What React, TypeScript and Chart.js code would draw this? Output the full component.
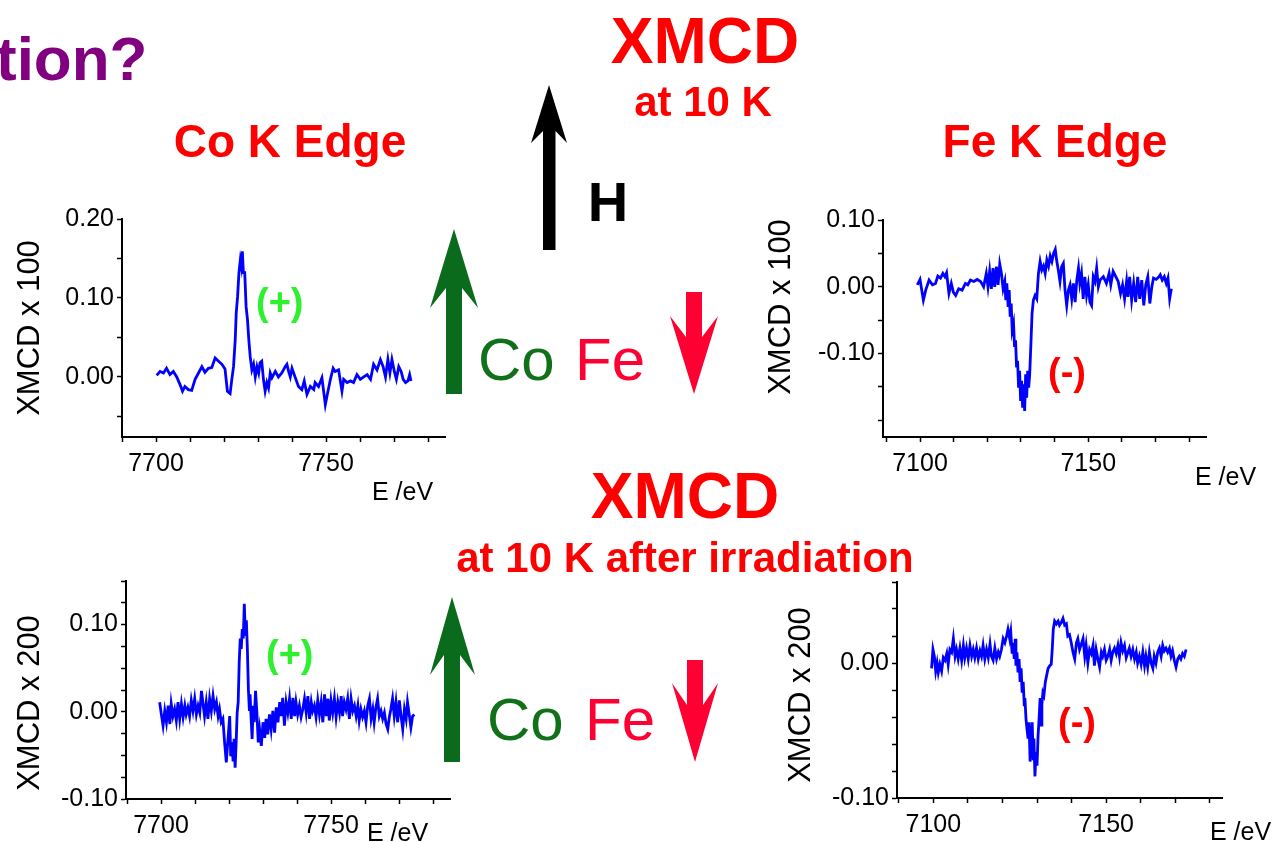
import React, { useEffect, useRef } from "react";
import { Chart, registerables } from "chart.js";

Chart.register(...registerables);

const FONT = '"Liberation Sans", Arial, Helvetica, sans-serif';

// ---- Co K edge, XMCD at 10 K (x 100) ----
const coEnergy10K = [
  7700.2, 7701.2, 7702.2, 7703.1, 7704.1, 7705.1, 7706.1, 7707.1, 7707.8, 7708.5,
  7709.5, 7710.5, 7711.5, 7712.5, 7713.5, 7714.4, 7715.4, 7716.4, 7717.4, 7718.4,
  7719.4, 7720.3, 7721.0, 7721.8, 7722.3, 7722.8, 7723.3, 7723.6, 7724.0, 7724.4,
  7724.8, 7725.1, 7725.4, 7725.7, 7726.1, 7726.5, 7726.9, 7727.3, 7727.7, 7728.2,
  7728.7, 7729.2, 7729.7, 7730.2, 7730.6, 7731.1, 7731.6, 7732.1, 7732.6, 7733.1,
  7733.6, 7734.1, 7735.1, 7736.0, 7737.0, 7738.0, 7738.5, 7739.0, 7739.5, 7740.0,
  7740.9, 7741.9, 7742.9, 7743.6, 7744.4, 7745.4, 7746.4, 7746.8, 7747.8, 7748.8,
  7749.3, 7749.8, 7750.3, 7751.3, 7752.1, 7752.7, 7753.7, 7754.7, 7755.2, 7756.2,
  7757.2, 7758.1, 7759.1, 7760.1, 7761.1, 7762.1, 7763.1, 7764.0, 7765.0, 7766.0,
  7766.8, 7767.5, 7768.2, 7768.8, 7769.4, 7770.1, 7770.7, 7771.4, 7772.1, 7772.7,
  7773.4, 7774.1, 7774.6, 7775.0,
];
const coXmcd10K = [
  0.002, 0.007, 0.005, 0.011, 0.003, 0.007, 0.0, -0.01, -0.018, -0.012,
  -0.016, -0.017, -0.003, 0.005, 0.013, 0.006, 0.011, 0.012, 0.024, 0.02,
  0.016, 0.01, -0.018, -0.021, -0.003, 0.013, 0.047, 0.081, 0.102, 0.132,
  0.148, 0.14, 0.159, 0.132, 0.132, 0.089, 0.073, 0.047, 0.026, 0.009,
  0.016, 0.0, 0.013, 0.005, 0.018, 0.02, -0.003, -0.018, -0.007, -0.014,
  0.005, -0.001, 0.007, 0.0, 0.005, 0.013, 0.016, 0.007, 0.0, 0.011,
  0.0, -0.012, -0.016, -0.005, -0.022, -0.012, -0.016, -0.007, -0.012, -0.001,
  -0.018, -0.035, -0.024, -0.003, 0.011, 0.007, 0.009, -0.018, -0.003, -0.007,
  -0.005, -0.007, 0.003, -0.003, 0.0, 0.003, -0.003, 0.016, 0.009, 0.022,
  0.013, 0.0, 0.022, 0.005, 0.022, 0.007, -0.003, 0.013, 0.007, -0.003,
  -0.007, -0.005, 0.003, -0.005,
];

// ---- Fe K edge, XMCD at 10 K (x 100) ----
const feEnergy10K = [
  7099.2, 7100.0, 7101.0, 7101.7, 7102.7, 7103.7, 7104.6, 7105.3, 7106.1, 7106.8,
  7107.4, 7107.9, 7108.6, 7109.3, 7109.9, 7110.6, 7111.5, 7112.5, 7113.5, 7114.2,
  7115.0, 7116.0, 7117.0, 7118.0, 7118.9, 7119.7, 7120.2, 7120.7, 7121.2, 7121.7,
  7122.2, 7122.7, 7123.2, 7123.7, 7124.2, 7124.7, 7125.2, 7125.5, 7125.8, 7126.2,
  7126.5, 7126.8, 7127.1, 7127.4, 7127.8, 7128.1, 7128.4, 7128.7, 7129.0, 7129.3,
  7129.6, 7129.9, 7130.2, 7130.5, 7130.8, 7131.1, 7131.4, 7131.7, 7132.0, 7132.3,
  7132.6, 7133.0, 7133.3, 7133.7, 7134.2, 7134.7, 7135.2, 7135.7, 7136.2, 7136.7,
  7137.2, 7137.7, 7138.2, 7138.7, 7139.2, 7139.7, 7140.2, 7140.6, 7141.1, 7141.6,
  7142.1, 7142.6, 7143.1, 7143.6, 7144.1, 7144.6, 7145.1, 7145.6, 7146.1, 7146.6,
  7147.1, 7147.5, 7148.0, 7148.5, 7149.0, 7149.5, 7150.0, 7150.5, 7151.0, 7151.5,
  7152.0, 7152.5, 7153.0, 7153.5, 7154.5, 7155.4, 7156.2, 7156.7, 7157.4, 7158.2,
  7158.9, 7159.6, 7160.2, 7160.8, 7161.4, 7161.8, 7162.3, 7162.9, 7163.5, 7164.1,
  7164.7, 7165.3, 7165.9, 7166.5, 7167.1, 7167.7, 7168.3, 7168.9, 7169.4, 7170.2,
  7171.0, 7171.4, 7172.0, 7172.6, 7173.2, 7173.7, 7174.2, 7174.7,
];
const feXmcd10K = [
  0.003, 0.011, -0.02, -0.005, 0.01, 0.003, 0.005, 0.016, 0.013, 0.02,
  0.015, 0.021, -0.01, 0.005, -0.008, -0.013, -0.003, -0.005, 0.005, 0.003,
  0.01, 0.008, 0.011, 0.008, 0.0, 0.02, 0.0, 0.023, -0.003, 0.028,
  0.0, 0.03, 0.003, 0.034, 0.02, -0.003, 0.008, -0.02, 0.005, -0.03,
  -0.005, -0.045, -0.025, -0.065, -0.055, -0.09, -0.08, -0.121, -0.111, -0.151,
  -0.126, -0.171, -0.141, -0.181, -0.146, -0.186, -0.131, -0.166, -0.126, -0.151,
  -0.131, -0.08, -0.04, -0.02, -0.013, -0.018, 0.02, 0.038, 0.025, 0.031,
  0.02, 0.04, 0.031, 0.046, 0.038, 0.05, 0.056, 0.04, 0.025, 0.008,
  0.03, 0.035, -0.005, -0.028, -0.005, 0.003, -0.018, 0.005, -0.023, 0.01,
  0.028, 0.005, 0.02, -0.018, 0.015, -0.013, 0.003, -0.023, -0.028, 0.015,
  0.008, 0.028, 0.0, 0.01, 0.015, 0.005, 0.02, 0.003, 0.023, 0.015,
  0.008, -0.01, 0.003, -0.018, 0.008, -0.015, 0.015, -0.02, 0.005, -0.023,
  0.015, -0.018, 0.01, -0.028, 0.003, 0.015, -0.025, 0.0, 0.013, 0.011,
  0.015, 0.018, 0.01, 0.015, 0.005, 0.013, -0.018, -0.003,
];

// ---- Co K edge, XMCD at 10 K after irradiation (x 200) ----
const coEnergyIrr = [
  7699.6, 7700.1, 7700.6, 7701.1, 7701.6, 7702.1, 7702.6, 7703.0, 7703.5, 7704.0,
  7704.5, 7705.0, 7705.5, 7706.0, 7706.5, 7707.0, 7707.4, 7707.9, 7708.4, 7708.9,
  7709.4, 7709.9, 7710.4, 7710.9, 7711.4, 7711.9, 7712.3, 7712.8, 7713.3, 7713.8,
  7714.3, 7714.8, 7715.3, 7715.8, 7716.3, 7716.8, 7717.2, 7717.7, 7718.2, 7718.7,
  7719.2, 7719.7, 7720.2, 7720.5, 7720.9, 7721.2, 7721.5, 7721.8, 7722.1, 7722.4,
  7722.7, 7723.0, 7723.3, 7723.6, 7723.9, 7724.2, 7724.5, 7724.8, 7725.1, 7725.4,
  7725.7, 7726.0, 7726.2, 7726.5, 7726.8, 7727.1, 7727.4, 7727.8, 7728.2, 7728.6,
  7729.0, 7729.5, 7730.0, 7730.5, 7730.9, 7731.4, 7731.9, 7732.4, 7732.9, 7733.4,
  7733.9, 7734.4, 7734.9, 7735.3, 7735.8, 7736.3, 7736.8, 7737.3, 7737.8, 7738.3,
  7738.8, 7739.3, 7739.7, 7740.2, 7740.7, 7741.2, 7741.7, 7742.2, 7742.7, 7743.2,
  7743.7, 7744.2, 7744.6, 7745.1, 7745.6, 7746.1, 7746.6, 7747.1, 7747.6, 7748.1,
  7748.6, 7749.1, 7749.5, 7750.0, 7750.5, 7751.0, 7751.5, 7752.0, 7752.5, 7753.0,
  7753.4, 7753.9, 7754.4, 7754.9, 7755.4, 7755.9, 7756.4, 7756.9, 7757.4, 7757.9,
  7758.3, 7758.8, 7759.3, 7759.8, 7760.3, 7760.8, 7761.3, 7761.8, 7762.3, 7762.7,
  7763.2, 7763.7, 7764.2, 7764.7, 7765.2, 7765.7, 7766.2, 7766.7, 7767.2, 7767.6,
  7768.1, 7768.6, 7769.1, 7769.6, 7770.1, 7770.6, 7771.1, 7771.6, 7772.1, 7772.5,
  7773.0, 7773.5, 7774.0, 7774.5,
];
const coXmcdIrr = [
  0.011, -0.003, -0.016, 0.001, -0.012, 0.007, -0.014, 0.009, -0.005, 0.003,
  -0.01, 0.011, -0.008, 0.009, -0.006, 0.007, -0.003, 0.005, -0.005, 0.013,
  0.001, 0.015, -0.003, 0.007, -0.001, 0.024, 0.011, -0.005, 0.011, -0.008,
  0.015, 0.001, 0.018, 0.003, 0.011, -0.005, 0.003, -0.012, -0.008, -0.035,
  -0.058, -0.031, -0.005, -0.051, -0.035, -0.057, -0.031, -0.064, -0.035, -0.001,
  0.011, 0.057, 0.084, 0.072, 0.095, 0.084, 0.124, 0.087, 0.105, 0.072,
  0.026, 0.001, 0.02, -0.008, -0.031, 0.007, -0.012, 0.024, -0.001, -0.035,
  -0.02, -0.039, -0.012, -0.03, -0.008, -0.026, -0.003, -0.02, 0.001, -0.024,
  0.005, -0.012, 0.011, -0.005, 0.016, -0.016, 0.011, -0.001, 0.015, -0.008,
  0.016, -0.005, 0.011, -0.003, 0.007, -0.006, 0.003, 0.015, -0.001, 0.018,
  -0.008, 0.011, 0.001, 0.007, -0.006, 0.013, -0.003, 0.011, -0.012, 0.02,
  -0.005, 0.015, -0.01, 0.013, -0.001, 0.015, -0.006, 0.011, -0.001, 0.018,
  -0.005, 0.011, 0.003, 0.015, -0.008, 0.015, 0.001, 0.007, -0.005, 0.007,
  -0.01, 0.003, -0.006, 0.001, -0.012, 0.007, 0.015, -0.008, 0.003, -0.012,
  0.005, 0.015, -0.005, 0.001, -0.008, -0.001, -0.014, -0.02, -0.005, 0.003,
  0.015, -0.005, 0.011, -0.012, 0.013, -0.005, -0.02, 0.003, -0.008, 0.011,
  -0.003, -0.018, -0.005, -0.003,
];

// ---- Fe K edge, XMCD at 10 K after irradiation (x 200) ----
const feEnergyIrr = [
  7099.5, 7099.9, 7100.3, 7100.7, 7101.1, 7101.45, 7101.9, 7102.4, 7102.9, 7103.4,
  7103.9, 7104.3, 7104.8, 7105.3, 7105.8, 7106.3, 7106.7, 7107.2, 7107.7, 7108.2,
  7108.7, 7109.1, 7109.6, 7110.1, 7110.6, 7111.1, 7111.55, 7112.0, 7112.5, 7113.0,
  7113.5, 7113.95, 7114.4, 7114.9, 7115.4, 7115.9, 7116.4, 7116.8, 7117.3, 7117.8,
  7118.3, 7118.8, 7119.2, 7119.7, 7120.2, 7120.7, 7121.2, 7121.6, 7122.1, 7122.4,
  7122.8, 7123.1, 7123.4, 7123.7, 7123.9, 7124.2, 7124.5, 7124.8, 7125.1, 7125.4,
  7125.7, 7126.0, 7126.3, 7126.5, 7126.8, 7127.1, 7127.4, 7127.7, 7128.0, 7128.3,
  7128.6, 7128.9, 7129.1, 7129.4, 7129.7, 7130.0, 7130.3, 7130.6, 7130.9, 7131.2,
  7131.4, 7131.7, 7132.0, 7132.4, 7132.8, 7133.2, 7133.7, 7134.1, 7134.4, 7134.7,
  7135.1, 7135.6, 7136.1, 7136.5, 7137.0, 7137.5, 7138.0, 7138.5, 7138.9, 7139.4,
  7139.9, 7140.4, 7140.9, 7141.4, 7141.8, 7142.3, 7142.8, 7143.3, 7143.8, 7144.2,
  7144.7, 7145.2, 7145.7, 7146.2, 7146.6, 7147.1, 7147.6, 7148.1, 7148.6, 7149.0,
  7149.5, 7150.0, 7150.5, 7151.0, 7151.45, 7151.9, 7152.4, 7152.9, 7153.4, 7153.85,
  7154.3, 7154.8, 7155.3, 7155.8, 7156.3, 7156.7, 7157.2, 7157.7, 7158.2, 7158.7,
  7159.1, 7159.6, 7160.1, 7160.6, 7161.1, 7161.5, 7162.0, 7162.5, 7163.0, 7163.5,
  7163.9, 7164.4, 7164.9, 7165.4, 7165.9, 7166.35, 7166.8, 7167.3, 7167.8, 7168.3,
  7168.75, 7169.2, 7169.7, 7170.2, 7170.7, 7171.15, 7171.6, 7172.1, 7172.6, 7173.1,
];
const feXmcdIrr = [
  -0.004, 0.01, 0.005, -0.006, 0.0, -0.007, -0.001, -0.006, 0.004, 0.002,
  0.007, -0.001, 0.01, 0.008, 0.018, 0.005, 0.01, 0.003, 0.011, 0.002,
  0.013, 0.004, 0.011, 0.003, 0.013, 0.005, 0.01, 0.004, 0.011, 0.003,
  0.009, 0.005, 0.013, 0.003, 0.01, 0.004, 0.014, 0.005, 0.002, 0.011,
  0.003, 0.008, 0.005, 0.01, 0.018, 0.015, 0.02, 0.025, 0.018, 0.023,
  0.007, 0.015, 0.003, 0.018, -0.002, 0.008, -0.007, 0.003, -0.014, -0.004,
  -0.022, -0.014, -0.031, -0.026, -0.041, -0.049, -0.056, -0.044, -0.073, -0.061,
  -0.044, -0.071, -0.056, -0.084, -0.066, -0.076, -0.054, -0.041, -0.026, -0.046,
  -0.031, -0.022, -0.024, -0.014, -0.009, -0.004, -0.002, -0.001, 0.01, 0.025,
  0.031, 0.029, 0.031, 0.028, 0.03, 0.033, 0.028, 0.029, 0.02, 0.021,
  0.015, 0.008, 0.003, 0.015, 0.018, 0.01, 0.014, 0.018, 0.005, 0.013,
  0.0, 0.01, 0.007, 0.013, -0.002, 0.01, 0.003, -0.003, 0.008, 0.005,
  0.01, 0.002, 0.005, 0.01, 0.002, 0.008, 0.011, 0.007, 0.013, 0.005,
  0.015, 0.009, 0.013, 0.004, 0.008, 0.011, 0.005, 0.01, 0.003, 0.008,
  0.0, 0.005, -0.001, 0.008, -0.002, 0.005, -0.003, 0.008, 0.0, -0.004,
  0.005, 0.0, 0.008, 0.011, 0.005, 0.013, 0.009, 0.011, 0.008, 0.011,
  0.005, 0.009, 0.002, -0.003, 0.003, 0.005, 0.003, 0.007, 0.005, 0.01,
];

// Axis tick positions and the subset that carries a number
const coEnergyTicks = [7690, 7700, 7710, 7720, 7730, 7740, 7750, 7760, 7770, 7780];
const coEnergyLabels = [7700, 7750];
const feEnergyTicks = [7090, 7100, 7110, 7120, 7130, 7140, 7150, 7160, 7170, 7180];
const feEnergyLabels = [7100, 7150];
const coYTicks10K = [-0.05, 0, 0.05, 0.1, 0.15, 0.2];
const coYLabels10K = [0, 0.1, 0.2];
const feYTicks10K = [-0.2, -0.15, -0.1, -0.05, 0, 0.05, 0.1];
const feYLabels10K = [-0.1, 0, 0.1];
const coYTicksIrr = [-0.1, -0.075, -0.05, -0.025, 0, 0.025, 0.05, 0.075, 0.1, 0.125, 0.15];
const coYLabelsIrr = [-0.1, 0, 0.1];
const feYTicksIrr = [-0.1, -0.08, -0.06, -0.04, -0.02, 0, 0.02, 0.04, 0.06];
const feYLabelsIrr = [-0.1, 0];

const PAD_TOP = 20;
const PAD_RIGHT = 12;
const Y_AXIS_W = 80;
const X_AXIS_H = 38;

const hasValue = (list: number[], v: number) => list.some((t) => Math.abs(t - v) < 1e-9);

type PanelProps = {
  energy: number[];
  xmcd: number[];
  xMin: number;
  xMax: number;
  yMin: number;
  yMax: number;
  xTicks: number[];
  xLabels: number[];
  yTicks: number[];
  yLabels: number[];
  areaLeft: number;
  areaTop: number;
  areaRight: number;
  areaBottom: number;
};

function SpectrumPanel(p: PanelProps) {
  const ref = useRef<HTMLCanvasElement>(null);
  const left = p.areaLeft - Y_AXIS_W;
  const top = p.areaTop - PAD_TOP;
  const width = p.areaRight + PAD_RIGHT - left;
  const height = p.areaBottom + X_AXIS_H - top;

  useEffect(() => {
    const tickFont = { family: FONT, size: 25 };
    const gridOpts = {
      drawOnChartArea: false,
      drawTicks: true,
      tickLength: 5,
      tickColor: "#000",
      tickWidth: 1.5,
    };
    const borderOpts = { display: true, color: "#000", width: 2 };
    const chart = new Chart(ref.current as HTMLCanvasElement, {
      type: "line",
      data: {
        datasets: [
          {
            data: p.energy.map((e, i) => ({ x: e, y: p.xmcd[i] })),
            borderColor: "#0000ff",
            borderWidth: 2.8,
            pointRadius: 0,
            tension: 0,
            fill: false,
          },
        ],
      },
      options: {
        responsive: false,
        animation: false,
        events: [],
        layout: { padding: { top: PAD_TOP, right: PAD_RIGHT, left: 0, bottom: 0 } },
        plugins: { legend: { display: false }, tooltip: { enabled: false } },
        scales: {
          x: {
            type: "linear",
            min: p.xMin,
            max: p.xMax,
            bounds: "data",
            afterBuildTicks: (s: any) => {
              s.ticks = p.xTicks.map((v) => ({ value: v }));
            },
            afterFit: (s: any) => {
              s.height = X_AXIS_H;
            },
            ticks: {
              autoSkip: false,
              maxRotation: 0,
              padding: 7,
              color: "#000",
              font: tickFont,
              callback: (v: any) => (hasValue(p.xLabels, Number(v)) ? String(v) : ""),
            },
            grid: gridOpts,
            border: borderOpts,
          },
          y: {
            type: "linear",
            min: p.yMin,
            max: p.yMax,
            bounds: "data",
            afterBuildTicks: (s: any) => {
              s.ticks = p.yTicks.map((v) => ({ value: v }));
            },
            afterFit: (s: any) => {
              s.width = Y_AXIS_W;
            },
            ticks: {
              autoSkip: false,
              padding: 3,
              color: "#000",
              font: tickFont,
              callback: (v: any) =>
                hasValue(p.yLabels, Number(v)) ? Number(v).toFixed(2) : "",
            },
            grid: gridOpts,
            border: borderOpts,
          },
        },
      },
    } as any);
    return () => chart.destroy();
  }, []);

  return (
    <canvas
      ref={ref}
      width={width}
      height={height}
      style={{ position: "absolute", left, top, width, height }}
    />
  );
}

type LabelProps = {
  x: number;
  y: number;
  size: number;
  fill: string;
  bold?: boolean;
  anchor?: "start" | "middle" | "end";
  rotate?: boolean;
  children: React.ReactNode;
};

function Label({ x, y, size, fill, bold, anchor = "start", rotate, children }: LabelProps) {
  return (
    <text
      x={rotate ? 0 : x}
      y={rotate ? 0 : y}
      transform={rotate ? `translate(${x},${y}) rotate(-90)` : undefined}
      textAnchor={anchor}
      dominantBaseline={rotate ? "central" : undefined}
      fill={fill}
      style={{ fontFamily: FONT, fontSize: size, fontWeight: bold ? 700 : 400 }}
    >
      {children}
    </text>
  );
}

const RED = "#ff0000";
const GREEN_ARROW = "#0b6b1c";
const PINK_RED = "#ff0033";
const LIME = "#2ef02e";

export default function App() {
  return (
    <div
      style={{
        position: "fixed",
        left: 0,
        top: 0,
        width: 1272,
        height: 842,
        overflow: "hidden",
        background: "#ffffff",
      }}
    >
      <SpectrumPanel
        energy={coEnergy10K}
        xmcd={coXmcd10K}
        xMin={7690}
        xMax={7785}
        yMin={-0.076}
        yMax={0.2}
        xTicks={coEnergyTicks}
        xLabels={coEnergyLabels}
        yTicks={coYTicks10K}
        yLabels={coYLabels10K}
        areaLeft={122}
        areaTop={219}
        areaRight={445}
        areaBottom={437}
      />
      <SpectrumPanel
        energy={feEnergy10K}
        xmcd={feXmcd10K}
        xMin={7089}
        xMax={7185}
        yMin={-0.225}
        yMax={0.1}
        xTicks={feEnergyTicks}
        xLabels={feEnergyLabels}
        yTicks={feYTicks10K}
        yLabels={feYLabels10K}
        areaLeft={883}
        areaTop={220}
        areaRight={1206}
        areaBottom={437}
      />
      <SpectrumPanel
        energy={coEnergyIrr}
        xmcd={coXmcdIrr}
        xMin={7689.7}
        xMax={7785}
        yMin={-0.1}
        yMax={0.15}
        xTicks={coEnergyTicks}
        xLabels={coEnergyLabels}
        yTicks={coYTicksIrr}
        yLabels={coYLabelsIrr}
        areaLeft={126}
        areaTop={581}
        areaRight={450}
        areaBottom={799}
      />
      <SpectrumPanel
        energy={feEnergyIrr}
        xmcd={feXmcdIrr}
        xMin={7089.5}
        xMax={7183.5}
        yMin={-0.1}
        yMax={0.06}
        xTicks={feEnergyTicks}
        xLabels={feEnergyLabels}
        yTicks={feYTicksIrr}
        yLabels={feYLabelsIrr}
        areaLeft={897}
        areaTop={582}
        areaRight={1222}
        areaBottom={798}
      />

      <svg
        width={1272}
        height={842}
        style={{ position: "absolute", left: 0, top: 0, pointerEvents: "none" }}
      >
        {/* headings */}
        <Label x={-4} y={80} size={62} fill="#800080" bold>
          tion?
        </Label>
        <Label x={705} y={63} size={64} fill={RED} bold anchor="middle">
          XMCD
        </Label>
        <Label x={703} y={116} size={42} fill={RED} bold anchor="middle">
          at 10 K
        </Label>
        <Label x={290} y={157} size={46} fill={RED} bold anchor="middle">
          Co K Edge
        </Label>
        <Label x={1055} y={157} size={46} fill={RED} bold anchor="middle">
          Fe K Edge
        </Label>
        <Label x={685} y={518} size={64} fill={RED} bold anchor="middle">
          XMCD
        </Label>
        <Label x={685} y={572} size={42} fill={RED} bold anchor="middle">
          at 10 K after irradiation
        </Label>

        {/* applied field */}
        <polygon points="549,85 567,143 555.5,131 555.5,250 543,250 543,131 531,143" fill="#000" />
        <Label x={608} y={221} size={56} fill="#000" bold anchor="middle">
          H
        </Label>

        {/* spin orientation, 10 K */}
        <polygon points="454,229 478,308 462,288 462,394 446,394 446,288 430,308" fill={GREEN_ARROW} />
        <polygon points="686,292 702,292 702,337 718,316 694,394 670,316 686,337" fill={PINK_RED} />
        <Label x={478} y={380} size={60} fill="#11701a">
          Co
        </Label>
        <Label x={575} y={380} size={60} fill={PINK_RED}>
          Fe
        </Label>

        {/* spin orientation, after irradiation */}
        <polygon points="452,597 475,675 460,655 460,762 444,762 444,655 430,675" fill={GREEN_ARROW} />
        <polygon points="687,660 703,660 703,705 718,683 695,762 672,683 687,705" fill={PINK_RED} />
        <Label x={487} y={740} size={60} fill="#11701a">
          Co
        </Label>
        <Label x={585} y={740} size={60} fill={PINK_RED}>
          Fe
        </Label>

        {/* axis titles */}
        <Label x={28} y={328} size={31} fill="#000" anchor="middle" rotate>
          XMCD x 100
        </Label>
        <Label x={779} y={307} size={31} fill="#000" anchor="middle" rotate>
          XMCD x 100
        </Label>
        <Label x={28} y={703} size={31} fill="#000" anchor="middle" rotate>
          XMCD x 200
        </Label>
        <Label x={799} y={695} size={31} fill="#000" anchor="middle" rotate>
          XMCD x 200
        </Label>
        <Label x={372} y={500} size={25} fill="#000">
          E /eV
        </Label>
        <Label x={1195} y={485} size={25} fill="#000">
          E /eV
        </Label>
        <Label x={367} y={841} size={25} fill="#000">
          E /eV
        </Label>
        <Label x={1210} y={840} size={25} fill="#000">
          E /eV
        </Label>

        {/* sign of the dichroic signal */}
        <Label x={256} y={315} size={38} fill={LIME} bold>
          (+)
        </Label>
        <Label x={1048} y={385} size={38} fill={RED} bold>
          (-)
        </Label>
        <Label x={266} y={667} size={38} fill={LIME} bold>
          (+)
        </Label>
        <Label x={1058} y={735} size={38} fill={RED} bold>
          (-)
        </Label>
      </svg>
    </div>
  );
}
